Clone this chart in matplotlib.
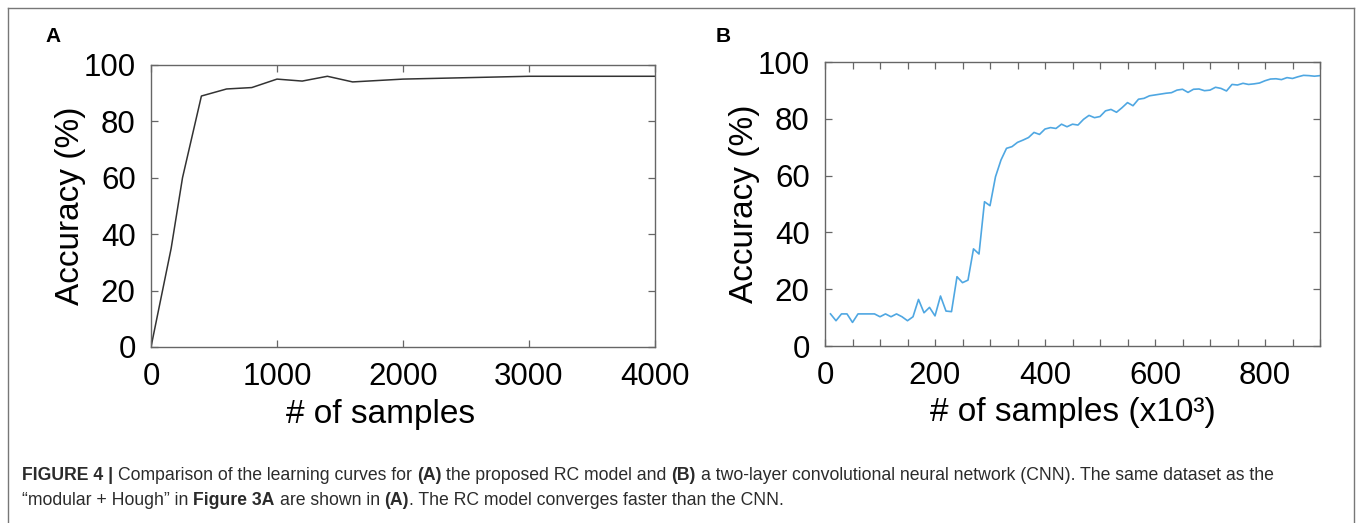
import matplotlib
matplotlib.use("Agg")
import matplotlib.pyplot as plt
from matplotlib.lines import Line2D
from matplotlib.ticker import MultipleLocator

plt.rcParams['font.family'] = ['Liberation Sans', 'DejaVu Sans']

# panel A: RC model
rc_samples = [0, 160, 250, 400, 600, 800, 1000, 1200, 1400, 1600, 2000, 3000, 4000]
rc_acc = [0, 35, 60, 89, 91.5, 92, 95, 94.3, 96, 94, 95, 96, 96]

# panel B: CNN (x10^3 samples)
cnn_samples = list(range(10, 901, 10))
cnn_acc = [11.3, 8.9, 11.3, 11.3, 8.3, 11.3, 11.3, 11.3, 11.3, 10.3,
           11.3, 10.3, 11.3, 10.3, 8.9, 10.3, 16.4, 11.7, 13.6, 10.6,
           17.6, 12.3, 12.1, 24.4, 22.3, 23.2, 34.2, 32.4, 50.8, 49.4,
           59.6, 65.5, 69.6, 70.2, 71.7, 72.5, 73.4, 75.2, 74.5, 76.4,
           76.9, 76.6, 78.1, 77.2, 78.1, 77.8, 79.8, 81.2, 80.4, 80.8,
           82.8, 83.3, 82.3, 83.9, 85.7, 84.6, 86.9, 87.2, 88.1, 88.4,
           88.7, 89.0, 89.2, 90.1, 90.4, 89.3, 90.4, 90.5, 89.9, 90.1,
           91.1, 90.7, 89.8, 92.1, 91.9, 92.5, 92.1, 92.3, 92.6, 93.4,
           94.0, 94.1, 93.8, 94.5, 94.2, 94.8, 95.3, 95.2, 95.0, 95.2]

W, H = 1357, 523
fig = plt.figure(figsize=(W / 100, H / 100), dpi=100)


def px_axes(l, t, r, b):
    return fig.add_axes([l / W, 1 - b / H, (r - l) / W, (b - t) / H])


def style(ax):
    for s in ax.spines.values():
        s.set_color('#666666')
        s.set_linewidth(1.0)
    ax.tick_params(which='both', direction='in', top=True, right=True,
                   length=5, width=0.9, color='#666666',
                   labelsize=22.5, pad=11)
    ax.set_ylim(0, 100)
    ax.yaxis.set_major_locator(MultipleLocator(20))


axA = px_axes(151, 65, 655, 347)
axA.plot(rc_samples, rc_acc, color='#333333', lw=1.1)
style(axA)
axA.set_xlim(0, 4000)
axA.xaxis.set_major_locator(MultipleLocator(1000))
axA.set_xlabel('# of samples', fontsize=24)
axA.set_ylabel('Accuracy (%)', fontsize=24)
axA.xaxis.label.set_va('center')
axA.xaxis.set_label_coords((381 - 151) / 504, (347 - 415) / 282)
axA.yaxis.label.set_va('center')
axA.yaxis.set_label_coords((70 - 151) / 504, 0.5)

axB = px_axes(825, 62, 1320, 346)
axB.plot(cnn_samples, cnn_acc, color='#4FA7E2', lw=1.2)
style(axB)
axB.set_xlim(0, 900)
axB.xaxis.set_major_locator(MultipleLocator(200))
axB.xaxis.set_minor_locator(MultipleLocator(50))
axB.set_xlabel('# of samples (x10\u00b3)', fontsize=24)
axB.set_ylabel('Accuracy (%)', fontsize=24)
axB.xaxis.label.set_va('center')
axB.xaxis.set_label_coords(0.5, (346 - 413) / 284)
axB.yaxis.label.set_va('center')
axB.yaxis.set_label_coords((745 - 825) / 495, 0.5)

fig.text(53 / W, 1 - 36 / H, 'A', fontsize=15, fontweight='bold',
         ha='center', va='center')
fig.text(723 / W, 1 - 36 / H, 'B', fontsize=15, fontweight='bold',
         ha='center', va='center')

# outer frame
for xs, ys in [((8, 8), (8, H + 5)), ((8, 1354), (8, 8)), ((1354, 1354), (8, H + 5))]:
    fig.add_artist(Line2D([x / W for x in xs], [1 - y / H for y in ys],
                          color='#777777', lw=1.0, transform=fig.transFigure))

# caption with mixed weights
cap1 = [('FIGURE 4 |', 'bold'), ('Comparison of the learning curves for', 'normal'),
        ('(A)', 'bold'), ('the proposed RC model and', 'normal'), ('(B)', 'bold'),
        ('a two-layer convolutional neural network (CNN). The same dataset as the', 'normal')]
cap2 = [('\u201cmodular + Hough\u201d in', 'normal'), ('Figure 3A', 'bold'),
        ('are shown in', 'normal'), ('(A)', 'bold'),
        ('. The RC model converges faster than the CNN.', 'normal')]

renderer = fig.canvas.get_renderer()
cap_size = 12.7


def width_of(s, weight):
    t = fig.text(0, 0, s, fontsize=cap_size, fontweight=weight)
    w = t.get_window_extent(renderer).width
    t.remove()
    return w


space = width_of('a a', 'normal') - width_of('aa', 'normal')


def rich_line(x, y, parts):
    for i, (s, wgt) in enumerate(parts):
        if i > 0 and not s.startswith('.'):
            x += space
        t = fig.text(x / W, 1 - y / H, s, fontsize=cap_size, fontweight=wgt,
                     color='#2b2b2b', ha='left', va='baseline')
        x += t.get_window_extent(renderer).width


rich_line(22, 480, cap1)
rich_line(22, 505, cap2)

fig.savefig('out.png', dpi=100)
